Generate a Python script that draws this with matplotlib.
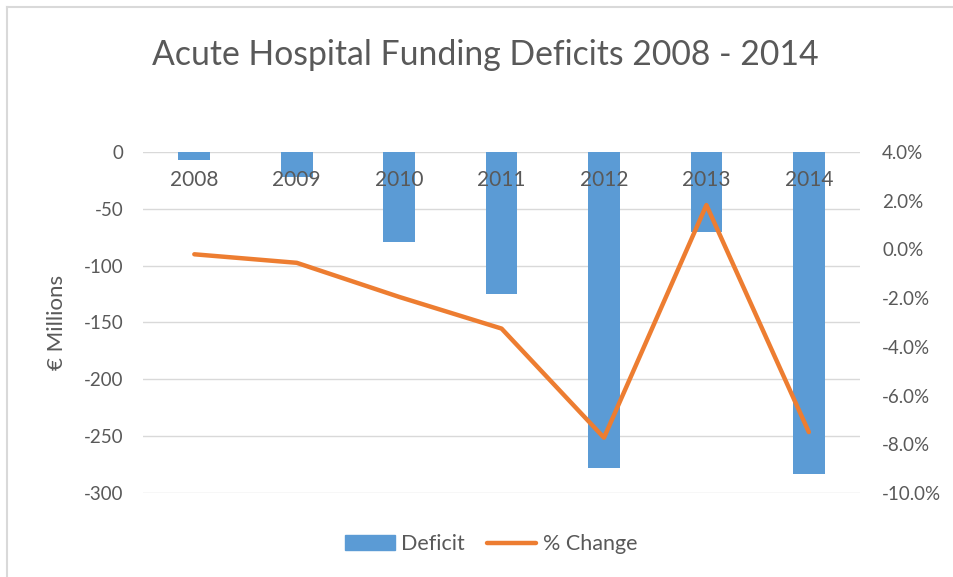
import matplotlib.pyplot as plt
from matplotlib.lines import Line2D
from matplotlib.ticker import FuncFormatter
import numpy as np

years = ['2008', '2009', '2010', '2011', '2012', '2013', '2014']
deficit = [-7, -22, -79, -125, -278, -70, -283]
pct_change = [-0.2, -0.55, -1.95, -3.25, -7.73, 1.82, -7.5]

grey = '#595959'
blue = '#5B9BD5'
orange = '#ED7D31'

plt.rcParams['font.family'] = ['Lato', 'DejaVu Sans']
plt.rcParams['axes.unicode_minus'] = False

fig = plt.figure(figsize=(9.54, 5.77), dpi=100)
ax = fig.add_axes([0.150, 0.1456, 0.7515, 0.591])
ax2 = ax.twinx()

x = np.arange(len(years))
ax.bar(x, deficit, width=0.31, color=blue, zorder=2, label='Deficit')
ax.set_ylim(-300, 0)
ax.set_xlim(-0.5, len(years) - 0.5)
ax.set_yticks(np.arange(-300, 1, 50))
ax.yaxis.grid(True, color='#D9D9D9', lw=1, zorder=0)
ax.set_axisbelow(True)
ax.set_xticks([])
for xi, yr in zip(x, years):
    ax.text(xi, -25, yr, ha='center', va='center', fontsize=15, color=grey, zorder=3)

ax2.plot(x, pct_change, color=orange, lw=3.2, solid_capstyle='round', zorder=4, label='% Change')
ax2.set_ylim(-10, 4)
ax2.set_yticks(np.arange(-10, 4.1, 2))
ax2.yaxis.set_major_formatter(FuncFormatter(lambda v, p: f'{v:.1f}%'))
ax2.set_xlim(-0.5, len(years) - 0.5)

for a in (ax, ax2):
    for s in a.spines.values():
        s.set_visible(False)
    a.tick_params(length=0, labelsize=13.5, labelcolor=grey)
ax.tick_params(axis='y', pad=14)
ax2.tick_params(axis='y', pad=16)

ax.set_ylabel('€ Millions', fontsize=16, color=grey, labelpad=12)

fig.text(0.509, 0.905, 'Acute Hospital Funding Deficits 2008 - 2014',
         ha='center', va='center', fontsize=24.3, color=grey)

handles = [plt.Rectangle((0, 0), 1, 1, color=blue),
           Line2D([0], [0], color=orange, lw=3.2, solid_capstyle='round')]
fig.legend(handles, ['Deficit', '% Change'], loc='center', bbox_to_anchor=(0.515, 0.057),
           ncol=2, frameon=False, fontsize=15.5, labelcolor=grey,
           handlelength=2.3, handletextpad=0.3, columnspacing=1.0)

# outer chart border (left and top edges visible)
fig.add_artist(Line2D([0.0073, 0.0073], [0.0, 0.988], color='#D9D9D9', lw=1.5))
fig.add_artist(Line2D([0.0073, 1.0], [0.988, 0.988], color='#D9D9D9', lw=1.5))

fig.savefig('out.png', dpi=100)
